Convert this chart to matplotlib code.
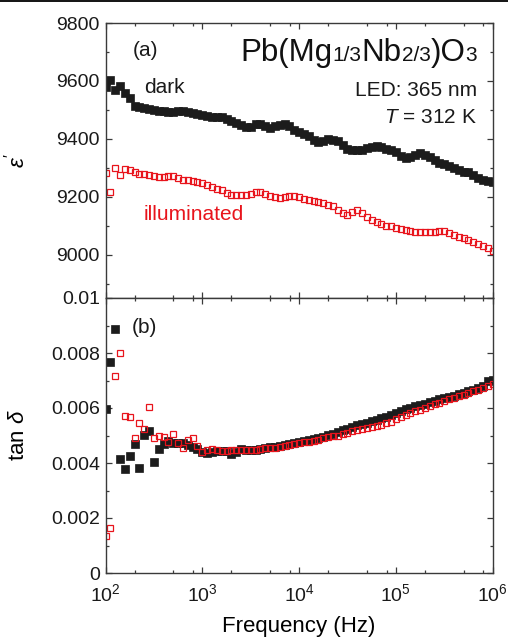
import numpy as np
import matplotlib
matplotlib.use("Agg")
import matplotlib.pyplot as plt
from matplotlib.ticker import FixedLocator, LogLocator, NullFormatter, FuncFormatter, MultipleLocator
from matplotlib.offsetbox import TextArea, HPacker, AnnotationBbox
from matplotlib.lines import Line2D

plt.rcParams['font.family'] = ['Liberation Sans', 'DejaVu Sans']
plt.rcParams['mathtext.fontset'] = 'custom'
plt.rcParams['mathtext.rm'] = 'Liberation Sans'
plt.rcParams['mathtext.it'] = 'Liberation Sans:italic'
plt.rcParams['mathtext.bf'] = 'Liberation Sans:bold'

# ---------------- data ----------------
freq_hz = np.logspace(2, 6, 81)  # measurement grid, 20 points per decade

eps_dark = [9578, 9603, 9567, 9583, 9558, 9540, 9514, 9509, 9506, 9502,
            9500, 9497, 9495, 9494, 9492, 9497, 9497, 9493, 9488, 9485,
            9481, 9479, 9477, 9474, 9474, 9467, 9462, 9456, 9447, 9441,
            9441, 9450, 9450, 9444, 9439, 9443, 9446, 9450, 9443, 9430,
            9422, 9416, 9408, 9397, 9390, 9394, 9399, 9397, 9391, 9379,
            9364, 9362, 9360, 9362, 9367, 9373, 9376, 9371, 9364, 9362,
            9356, 9339, 9333, 9337, 9344, 9351, 9345, 9337, 9328, 9318,
            9314, 9307, 9299, 9291, 9287, 9284, 9276, 9265, 9259, 9254,
            9251]

eps_illum = [9282, 9215, 9298, 9276, 9296, 9291, 9287, 9279, 9279, 9275,
             9270, 9268, 9267, 9270, 9270, 9264, 9259, 9259, 9255, 9251,
             9247, 9241, 9233, 9227, 9222, 9213, 9207, 9206, 9206, 9207,
             9210, 9215, 9215, 9208, 9203, 9199, 9197, 9199, 9203, 9203,
             9199, 9192, 9187, 9184, 9180, 9178, 9172, 9167, 9155, 9144,
             9138, 9146, 9153, 9144, 9130, 9121, 9114, 9107, 9100, 9098,
             9092, 9089, 9086, 9083, 9079, 9077, 9077, 9077, 9079, 9080,
             9082, 9075, 9069, 9061, 9058, 9049, 9042, 9038, 9029, 9022,
             9014]

tan_dark = [0.00598, 0.00768, 0.00886, 0.00413, 0.00378, 0.00425, 0.00469, 0.00381, 0.00502, 0.00517,
            0.00402, 0.00450, 0.00470, 0.00479, 0.00471, 0.00473, 0.00471, 0.00465, 0.00457, 0.00450,
            0.00440, 0.00436, 0.00441, 0.00442, 0.00443, 0.00444, 0.00432, 0.00440, 0.00452, 0.00448,
            0.00447, 0.00448, 0.00452, 0.00454, 0.00458, 0.00459, 0.00462, 0.00465, 0.00468, 0.00472,
            0.00476, 0.00479, 0.00483, 0.00487, 0.00491, 0.00496, 0.00501, 0.00507, 0.00513, 0.00519,
            0.00525, 0.00531, 0.00537, 0.00542, 0.00547, 0.00552, 0.00557, 0.00562, 0.00568, 0.00576,
            0.00582, 0.00589, 0.00595, 0.00600, 0.00606, 0.00611, 0.00616, 0.00621, 0.00626, 0.00631,
            0.00636, 0.00640, 0.00645, 0.00650, 0.00655, 0.00661, 0.00667, 0.00673, 0.00680, 0.00698,
            0.00702]

tan_illum = [0.00135, 0.00165, 0.00718, 0.00801, 0.00571, 0.00568, 0.00491, 0.00545, 0.00522, 0.00605,
             0.00490, 0.00498, 0.00496, 0.00477, 0.00504, 0.00474, 0.00455, 0.00483, 0.00490, 0.00462,
             0.00441, 0.00447, 0.00450, 0.00446, 0.00445, 0.00445, 0.00446, 0.00446, 0.00446, 0.00446,
             0.00447, 0.00448, 0.00452, 0.00453, 0.00455, 0.00456, 0.00458, 0.00461, 0.00466, 0.00470,
             0.00474, 0.00476, 0.00478, 0.00481, 0.00485, 0.00490, 0.00494, 0.00497, 0.00500, 0.00505,
             0.00510, 0.00515, 0.00520, 0.00525, 0.00529, 0.00532, 0.00536, 0.00540, 0.00545, 0.00550,
             0.00561, 0.00568, 0.00576, 0.00582, 0.00588, 0.00594, 0.00600, 0.00607, 0.00614, 0.00619,
             0.00625, 0.00631, 0.00636, 0.00642, 0.00649, 0.00655, 0.00661, 0.00667, 0.00673, 0.00681,
             0.00688]

eps_ticks = [9000, 9200, 9400, 9600, 9800]
tan_ticks = [0, 0.002, 0.004, 0.006, 0.008, 0.01]
freq_ticks = [1e2, 1e3, 1e4, 1e5, 1e6]

# ---------------- figure ----------------
W, H = 508, 639
fig = plt.figure(figsize=(W / 100, H / 100), dpi=100)

def px(x, y):
    return (x / W, 1 - y / H)

L, R = 105.5, 492.7
T1, B1, B2 = 23.0, 298.0, 573.0
ax1 = fig.add_axes([L / W, 1 - B1 / H, (R - L) / W, (B1 - T1) / H])
ax2 = fig.add_axes([L / W, 1 - B2 / H, (R - L) / W, (B2 - B1) / H])

BLACK = '#1c1c1c'
RED = '#e8141c'
SPINE = '#3a3a3a'

ax1.plot(freq_hz, eps_dark, ls='none', marker='s', ms=5.5, mfc=BLACK, mec=BLACK, mew=0.5)
ax1.plot(freq_hz, eps_illum, ls='none', marker='s', ms=4.7, mfc='none', mec=RED, mew=0.9)
ax2.plot(freq_hz, tan_dark, ls='none', marker='s', ms=5.5, mfc=BLACK, mec=BLACK, mew=0.5)
ax2.plot(freq_hz, tan_illum, ls='none', marker='s', ms=4.7, mfc='none', mec=RED, mew=0.9)

for ax in (ax1, ax2):
    ax.set_xscale('log')
    ax.set_xlim(1e2, 1e6)
    ax.xaxis.set_major_locator(FixedLocator(freq_ticks))
    ax.xaxis.set_minor_locator(LogLocator(base=10, subs=(2.0, 5.0, 8.0)))
    ax.xaxis.set_minor_formatter(NullFormatter())
    ax.tick_params(which='both', direction='in', top=True, right=True, color=SPINE,
                   labelsize=14, labelcolor='#1a1a1a', width=0.9)
    ax.tick_params(which='major', length=4.5, pad=4)
    ax.tick_params(which='minor', length=2.5)
    for s in ax.spines.values():
        s.set_color(SPINE)
        s.set_linewidth(1.0)

ax1.set_ylim(8850, 9800)
ax1.yaxis.set_major_locator(FixedLocator(eps_ticks))
ax1.yaxis.set_minor_locator(MultipleLocator(100))
ax1.tick_params(axis='x', labelbottom=False)

ax2.set_ylim(0, 0.01)
ax2.yaxis.set_major_locator(FixedLocator(tan_ticks))
ax2.yaxis.set_minor_locator(MultipleLocator(0.001))
ax2.yaxis.set_major_formatter(FuncFormatter(lambda v, p: '%g' % v))
ax2.tick_params(axis='x', which='major', pad=7.5)

ax1.set_ylabel(r"$\mathit{\varepsilon}'$", fontsize=16)
ax2.set_ylabel(r"tan $\mathit{\delta}$", fontsize=16)
ax1.yaxis.set_label_coords((29 - L) / (R - L), 0.5)
ax2.yaxis.set_label_coords((29 - L) / (R - L), 0.5)
ax2.set_xlabel('Frequency (Hz)', fontsize=16, labelpad=7.5)

# ---------------- annotations ----------------
fig.text(*px(132.7, 56), '(a)', fontsize=15, color='#1a1a1a', ha='left', va='baseline')
fig.text(*px(131.7, 333), '(b)', fontsize=15, color='#1a1a1a', ha='left', va='baseline')
fig.text(*px(144, 92.7), 'dark', fontsize=15, color='#1a1a1a', ha='left', va='baseline')
fig.text(*px(144, 220), 'illuminated', fontsize=15, color=RED, ha='left', va='baseline')
fig.text(*px(477, 96), 'LED: 365 nm', fontsize=15, color='#1a1a1a', ha='right', va='baseline')
fig.text(*px(477, 122.7), r'$\mathit{T}$ = 312 K', fontsize=15, color='#1a1a1a', ha='right', va='baseline')

big = dict(fontsize=22.5, color='#111111')
small = dict(fontsize=15, color='#111111')
pieces = [('Pb(Mg', big), ('1/3', small), ('Nb', big), ('2/3', small), (')O', big), ('3', small)]
areas = [TextArea(t, textprops=p) for t, p in pieces]
pack = HPacker(children=areas, align='baseline', pad=0, sep=0)
ab = AnnotationBbox(pack, px(477, 68), xycoords='figure fraction', box_alignment=(1, 0),
                    frameon=False, pad=0)
fig.add_artist(ab)

fig.add_artist(Line2D([0, 1], [1 - 0.8 / H, 1 - 0.8 / H], transform=fig.transFigure,
                      color='black', lw=1.3))

fig.savefig('out.png', dpi=100)
